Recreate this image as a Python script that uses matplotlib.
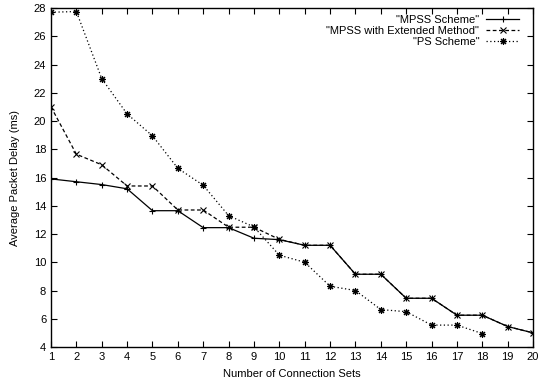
import matplotlib
matplotlib.use("Agg")
import matplotlib.pyplot as plt
import numpy as np

# data
conn_sets = np.arange(1, 21)
mpss = [15.9, 15.7, 15.5, 15.2, 13.65, 13.65, 12.45, 12.45, 11.7, 11.6,
        11.2, 11.2, 9.15, 9.15, 7.45, 7.45, 6.25, 6.25, 5.45, 5.0]
mpss_ext = [21.0, 17.65, 16.9, 15.4, 15.4, 13.7, 13.7, 12.48, 12.48, 11.62,
            11.2, 11.2, 9.15, 9.15, 7.45, 7.45, 6.25, 6.25, 5.45, 5.0]
ps_x = np.arange(1, 19)
ps = [27.7, 27.75, 23.0, 20.5, 18.95, 16.65, 15.45, 13.3, 12.5, 10.5,
      10.0, 8.3, 8.0, 6.65, 6.5, 5.55, 5.55, 4.95]

plt.rcParams["font.family"] = "Liberation Sans"
plt.rcParams["font.size"] = 8

fig = plt.figure(figsize=(5.39, 3.85), dpi=100)
ax = fig.add_axes([0.0946, 0.0987, 0.8944, 0.8805])

ax.plot(conn_sets, mpss, color="black", lw=0.9, marker="+", ms=5, mew=0.8,
        label='"MPSS Scheme"')
ax.plot(conn_sets, mpss_ext, color="black", lw=0.9, ls=(0, (3, 2)), marker="x",
        ms=4, mew=0.8, label='"MPSS with Extended Method"')
ax.plot(ps_x, ps, color="black", lw=0.9, ls=(0, (1, 2)), marker=(8, 2, 0),
        ms=5, mew=0.8, label='"PS Scheme"')

ax.set_xlim(1, 20)
ax.set_ylim(4, 28)
ax.set_xticks(range(1, 21))
ax.set_yticks(range(4, 29, 2))
ax.tick_params(direction="in", top=True, right=True, length=4, width=0.8)
for s in ax.spines.values():
    s.set_linewidth(1.0)

ax.set_xlabel("Number of Connection Sets", labelpad=5)
ax.set_ylabel("Average Packet Delay (ms)", labelpad=10)

ax.legend(loc="upper right", bbox_to_anchor=(0.99, 1.006), frameon=False,
          markerfirst=False, handlelength=3, labelspacing=0.1, borderpad=0.3,
          handletextpad=0.6)

fig.savefig("out.png", dpi=100)
